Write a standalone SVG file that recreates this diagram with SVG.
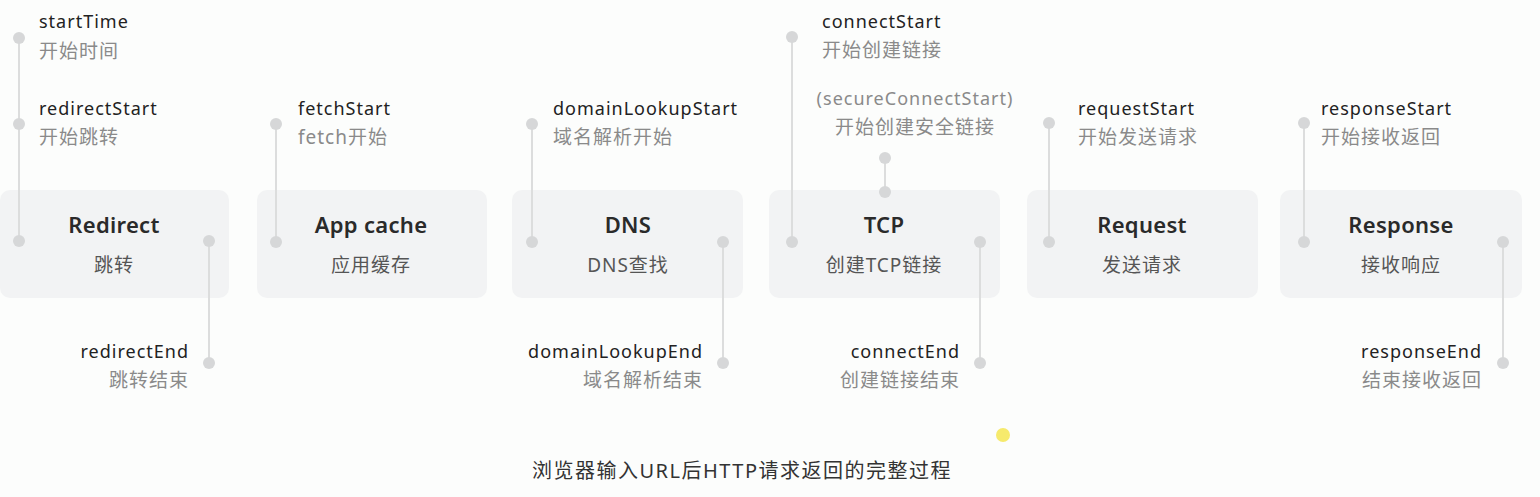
<svg xmlns="http://www.w3.org/2000/svg" width="1540" height="497" viewBox="0 0 1540 497">
<style>
.bg{fill:#fcfdfc}
.box{fill:#f2f3f4}
.ln{stroke:#dcdddd;stroke-width:2;fill:none}
.dot{fill:#d6d7d8}
.t{font-family:"Noto Sans","Noto Sans CJK SC",sans-serif;}
.title{font-size:22px;font-weight:600;fill:#2a2a2a;text-anchor:middle;letter-spacing:0.3px}
.sub{font-size:19px;fill:#555;text-anchor:middle;letter-spacing:1px}
.k{font-size:18px;fill:#222;letter-spacing:1px}
.c{font-size:18px;fill:#8a8a8a;letter-spacing:1px}
.zh{font-size:19px;letter-spacing:1px}
.r{text-anchor:end}
.m{text-anchor:middle}
.cap{font-size:20px;fill:#333;text-anchor:middle;letter-spacing:1.5px}
</style>
<rect class="bg" x="0" y="0" width="1540" height="497"/>
<g id="redirect">
<rect class="box" x="0" y="190" width="229" height="108" rx="10"/>
<text class="t title" x="114" y="233">Redirect</text>
<text class="t sub" x="114" y="272">跳转</text>
</g>
<g id="appcache">
<rect class="box" x="257" y="190" width="230" height="108" rx="10"/>
<text class="t title" x="371" y="233">App cache</text>
<text class="t sub" x="371" y="272">应用缓存</text>
</g>
<g id="dns">
<rect class="box" x="512" y="190" width="231" height="108" rx="10"/>
<text class="t title" x="628" y="233">DNS</text>
<text class="t sub" x="628" y="272">DNS查找</text>
</g>
<g id="tcp">
<rect class="box" x="769" y="190" width="231" height="108" rx="10"/>
<text class="t title" x="884" y="233">TCP</text>
<text class="t sub" x="884" y="272">创建TCP链接</text>
</g>
<g id="request">
<rect class="box" x="1027" y="190" width="231" height="108" rx="10"/>
<text class="t title" x="1142" y="233">Request</text>
<text class="t sub" x="1142" y="272">发送请求</text>
</g>
<g id="response">
<rect class="box" x="1280" y="190" width="242" height="108" rx="10"/>
<text class="t title" x="1401" y="233">Response</text>
<text class="t sub" x="1401" y="272">接收响应</text>
</g>
<g id="connectors">
<line class="ln" x1="19" y1="38" x2="19" y2="241"/>
<line class="ln" x1="209" y1="241" x2="209" y2="363"/>
<line class="ln" x1="276" y1="124" x2="276" y2="242"/>
<line class="ln" x1="532" y1="124" x2="532" y2="242"/>
<line class="ln" x1="723" y1="242" x2="723" y2="363"/>
<line class="ln" x1="792" y1="37" x2="792" y2="242"/>
<line class="ln" x1="885" y1="158" x2="885" y2="192"/>
<line class="ln" x1="980" y1="242" x2="980" y2="363"/>
<line class="ln" x1="1049" y1="123" x2="1049" y2="242"/>
<line class="ln" x1="1304" y1="123" x2="1304" y2="242"/>
<line class="ln" x1="1503" y1="242" x2="1503" y2="363"/>
</g>
<g id="dots">
<circle class="dot" cx="19" cy="38" r="6"/>
<circle class="dot" cx="19" cy="124" r="6"/>
<circle class="dot" cx="19" cy="241" r="6"/>
<circle class="dot" cx="209" cy="241" r="6"/>
<circle class="dot" cx="209" cy="363" r="6"/>
<circle class="dot" cx="276" cy="124" r="6"/>
<circle class="dot" cx="276" cy="242" r="6"/>
<circle class="dot" cx="532" cy="124" r="6"/>
<circle class="dot" cx="532" cy="242" r="6"/>
<circle class="dot" cx="723" cy="242" r="6"/>
<circle class="dot" cx="723" cy="363" r="6"/>
<circle class="dot" cx="792" cy="37" r="6"/>
<circle class="dot" cx="792" cy="242" r="6"/>
<circle class="dot" cx="885" cy="158" r="6"/>
<circle class="dot" cx="885" cy="192" r="6"/>
<circle class="dot" cx="980" cy="242" r="6"/>
<circle class="dot" cx="980" cy="363" r="6"/>
<circle class="dot" cx="1049" cy="123" r="6"/>
<circle class="dot" cx="1049" cy="242" r="6"/>
<circle class="dot" cx="1304" cy="123" r="6"/>
<circle class="dot" cx="1304" cy="242" r="6"/>
<circle class="dot" cx="1503" cy="242" r="6"/>
<circle class="dot" cx="1503" cy="363" r="6"/>
</g>
<g id="labels">
<text class="t k" x="39" y="28">startTime</text>
<text class="t c zh" x="39" y="58">开始时间</text>
<text class="t k" x="39" y="115">redirectStart</text>
<text class="t c zh" x="39" y="144">开始跳转</text>
<text class="t k r" x="189" y="358">redirectEnd</text>
<text class="t c zh r" x="189" y="387">跳转结束</text>
<text class="t k" x="298" y="115">fetchStart</text>
<text class="t c zh" x="298" y="144">fetch开始</text>
<text class="t k" x="553" y="115">domainLookupStart</text>
<text class="t c zh" x="553" y="144">域名解析开始</text>
<text class="t k r" x="703" y="358">domainLookupEnd</text>
<text class="t c zh r" x="703" y="387">域名解析结束</text>
<text class="t k" x="822" y="28">connectStart</text>
<text class="t c zh" x="822" y="57">开始创建链接</text>
<text class="t c m" x="915" y="105">(secureConnectStart)</text>
<text class="t c zh m" x="915" y="134">开始创建安全链接</text>
<text class="t k r" x="960" y="358">connectEnd</text>
<text class="t c zh r" x="960" y="387">创建链接结束</text>
<text class="t k" x="1078" y="115">requestStart</text>
<text class="t c zh" x="1078" y="144">开始发送请求</text>
<text class="t k" x="1321" y="115">responseStart</text>
<text class="t c zh" x="1321" y="144">开始接收返回</text>
<text class="t k r" x="1482" y="358">responseEnd</text>
<text class="t c zh r" x="1482" y="387">结束接收返回</text>
</g>
<circle cx="1003" cy="435" r="7" fill="#f6ea6c"/>
<text class="t cap" x="742" y="478">浏览器输入URL后HTTP请求返回的完整过程</text>
</svg>
